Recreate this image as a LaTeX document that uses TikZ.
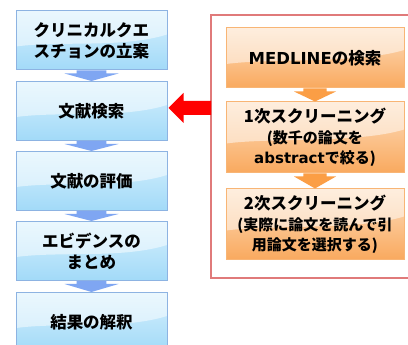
\documentclass[tikz,border=0pt]{standalone}
\usepackage{fontspec}
\setmainfont{Noto Sans CJK JP}
\newfontfamily\lt{DejaVu Sans}
\usetikzlibrary{calc}
\definecolor{bborder}{HTML}{8DB3E2}
\definecolor{btop}{HTML}{D6F0FD}
\definecolor{bbot}{HTML}{A2DAF8}
\definecolor{oborder}{HTML}{F8B575}
\definecolor{otop}{HTML}{FDDDBD}
\definecolor{obot}{HTML}{F9A95E}
\definecolor{frame}{HTML}{E07A7A}
\definecolor{bconn}{HTML}{7FA6F2}
\definecolor{oconn}{HTML}{FB9E45}
\tikzset{
  wave/.style={path picture={
    \fill[white,opacity=0.5] (path picture bounding box.north west) -- (path picture bounding box.north east)
      -- ($(path picture bounding box.east)+(0,#1)$)
      .. controls +(-45pt,-14pt) and +(45pt,6pt) .. ($(path picture bounding box.west)+(0,-6pt)$) -- cycle;}},
  bluebox/.style={draw=bborder, line width=1pt, top color=btop, bottom color=bbot, wave=6pt,
    minimum width=151pt, minimum height=59pt, align=center, font=\fontsize{16.5}{21}\selectfont\bfseries, inner sep=0pt},
  orangebox/.style={draw=oborder, line width=1pt, top color=otop, bottom color=obot, wave=8pt,
    minimum width=178pt, align=center, font=\fontsize{16.5}{20.5}\selectfont\bfseries, inner sep=0pt},
}
\newcommand{\subtxt}{\fontsize{15}{20.5}\selectfont}
\newcommand{\downconn}[4]{% from, to, color, half head width
  \fill[#3] ($(#1.south)+(-#4*0.55,0)$) -- ($(#1.south)+(#4*0.55,0)$) -- ($(#1.south)+(#4*0.55,-3pt)$)
    -- ($(#1.south)+(#4,-3pt)$) -- (#2.north) -- ($(#1.south)+(-#4,-3pt)$) -- ($(#1.south)+(-#4*0.55,-3pt)$) -- cycle;}
\begin{document}
\begin{tikzpicture}[x=1pt,y=-1pt]
\useasboundingbox (0,0) rectangle (408,345);
\clip (0,0) rectangle (408,345);
\fill[white] (0,0) rectangle (408,345);
% red frame
\draw[frame, line width=1.6pt] (211,15) rectangle (430,278);
% left column
\node[bluebox] (l1) at (91.5,40.5) {クリニカルクエ\\スチョンの立案};
\node[bluebox] (l2) at (91.5,111) {文献検索};
\node[bluebox] (l3) at (91.5,181) {文献の評価};
\node[bluebox] (l4) at (91.5,251) {エビデンスの\\まとめ};
\node[bluebox, anchor=north] (l5) at (91.5,292) {\raisebox{-8pt}{結果の解釈}};
% right column
\node[orangebox, minimum height=60pt] (r1) at (315,58) {{\lt MEDLINE}の検索};
\node[orangebox, minimum height=71pt] (r2) at (315,137.5) {1次スクリーニング\\{\subtxt (数千の論文を}\\{\subtxt{\lt abstract}で絞る)}};
\node[orangebox, minimum height=71pt] (r3) at (315,224.5) {2次スクリーニング\\{\subtxt (実際に論文を読んで引}\\{\subtxt 用論文を選択する)}};
% connectors
\downconn{l1}{l2}{bconn}{27pt}
\downconn{l2}{l3}{bconn}{27pt}
\downconn{l3}{l4}{bconn}{27pt}
\downconn{l4}{l5}{bconn}{27pt}
\downconn{r1}{r2}{oconn}{21pt}
\downconn{r2}{r3}{oconn}{21pt}
% red arrow
\coordinate (tip) at ($(l2.east)+(1,-3)$);
\coordinate (fr) at (211,108);
\fill[red] (fr) ++(0,-7) -- ($(tip)+(15,-7)$) -- ($(tip)+(15,-15)$) -- (tip)
  -- ($(tip)+(15,15)$) -- ($(tip)+(15,7)$) -- ($(fr)+(0,7)$) -- cycle;
\end{tikzpicture}
\end{document}
